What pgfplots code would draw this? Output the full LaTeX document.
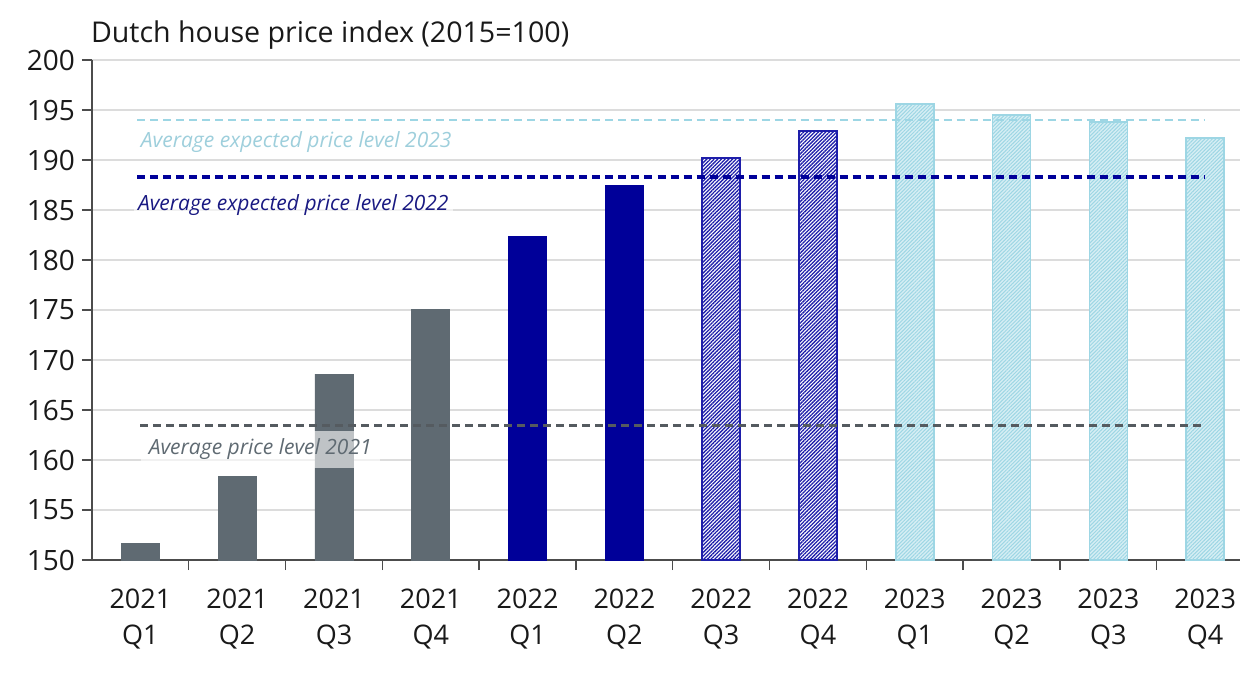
\documentclass[border=0pt]{standalone}
\usepackage{pgfplots}
\pgfplotsset{compat=1.18}
\usepackage{fontspec}
\setmainfont{Open Sans}
\usetikzlibrary{patterns.meta}
\definecolor{cgray}{HTML}{5F6A72}
\definecolor{cnavy}{RGB}{0,0,153}
\definecolor{cnavytext}{RGB}{25,25,130}
\definecolor{chatch}{RGB}{30,30,170}
\definecolor{clight}{HTML}{9DD6E4}
\definecolor{clighttext}{HTML}{9ECFDC}
\definecolor{clightfill}{HTML}{D6EEF4}
\definecolor{cgrid}{HTML}{DCDCDC}
\definecolor{cdash}{HTML}{555B60}
\begin{document}
\begin{tikzpicture}
\begin{axis}[
  name=ax,
  scale only axis,
  width=574pt, height=250pt,
  xmin=-0.5, xmax=11.36,
  ymin=150, ymax=200,
  ytick={150,155,...,200},
  axis lines*=left,
  axis line style={draw=black!70, line width=0.7pt},
  ymajorgrids,
  grid style={cgrid, line width=0.8pt},
  tick align=outside,
  major tick length=5pt,
  minor tick length=5pt,
  tick style={black!70, line width=0.7pt},
  xtick={0,...,11},
  xticklabels={{2021\\Q1},{2021\\Q2},{2021\\Q3},{2021\\Q4},{2022\\Q1},{2022\\Q2},{2022\\Q3},{2022\\Q4},{2023\\Q1},{2023\\Q2},{2023\\Q3},{2023\\Q4}},
  major x tick style={draw=none},
  minor xtick={0.5,1.5,...,10.5},
  xticklabel style={align=center, font=\fontsize{13.5pt}{18pt}\selectfont, text=black!90, yshift=-6pt},
  yticklabel style={font=\fontsize{14pt}{16pt}\selectfont, text=black!90},
  /pgf/number format/assume math mode=true,
  clip=false,
]
\pgfplotstableread{
x y
0 151.7
1 158.4
2 168.6
3 175.1
}\tgray
\pgfplotstableread{
x y
4 182.4
5 187.5
}\tnavy
\pgfplotstableread{
x y
6 190.2
7 192.9
}\thatch
\pgfplotstableread{
x y
8 195.6
9 194.5
10 193.8
11 192.2
}\tlight
\addplot[ybar, bar width=19pt, bar shift=0pt, fill=cgray, draw=cgray] table[x=x,y=y] {\tgray};
\addplot[ybar, bar width=19pt, bar shift=0pt, fill=cnavy, draw=cnavy] table[x=x,y=y] {\tnavy};
\addplot[ybar, bar width=19pt, bar shift=0pt, fill=white, draw=chatch, line width=0.9pt,
  postaction={pattern={Lines[angle=45,distance=1.3pt,line width=0.65pt]}, pattern color=chatch}] table[x=x,y=y] {\thatch};
\addplot[ybar, bar width=19pt, bar shift=0pt, fill=clightfill, draw=clight, line width=0.8pt,
  postaction={pattern={Lines[angle=45,distance=1.3pt,line width=0.5pt]}, pattern color=clight}] table[x=x,y=y] {\tlight};
\addplot[cdash, line width=1.2pt, dash pattern=on 4pt off 2.5pt] coordinates {(0,163.45) (11,163.45)};
\addplot[cnavy, line width=1.6pt, dash pattern=on 4pt off 2.5pt] coordinates {(-0.03,188.3) (11,188.3)};
\addplot[clight, line width=1pt, dash pattern=on 4pt off 2.5pt] coordinates {(-0.03,194.0) (11,194.0)};
\node[anchor=west, font=\fontsize{10.5pt}{12pt}\itshape, text=clighttext, fill=white, fill opacity=0.6, text opacity=1, inner sep=2pt] at (axis cs:-0.04,191.8) {Average expected price level 2023};
\node[anchor=west, font=\fontsize{10.5pt}{12pt}\itshape, text=cnavytext, fill=white, fill opacity=0.6, text opacity=1, inner sep=2pt] at (axis cs:-0.07,185.5) {Average expected price level 2022};
\node[anchor=west, font=\fontsize{10.5pt}{12pt}\itshape, text=cgray, fill=white, fill opacity=0.6, text opacity=1, inner sep=4pt] at (axis cs:0.0,161.1) {Average price level 2021};
\end{axis}
\node[anchor=base west, font=\fontsize{14.3pt}{18pt}\selectfont, text=black!90] at ([shift={(-4pt,9pt)}]ax.north west) {Dutch house price index (2015=100)};
\pgfresetboundingbox
\path[use as bounding box] ([shift={(-46pt,-61pt)}]ax.south west) rectangle ([shift={(0.5pt,30pt)}]ax.north east);
\end{tikzpicture}
\end{document}
